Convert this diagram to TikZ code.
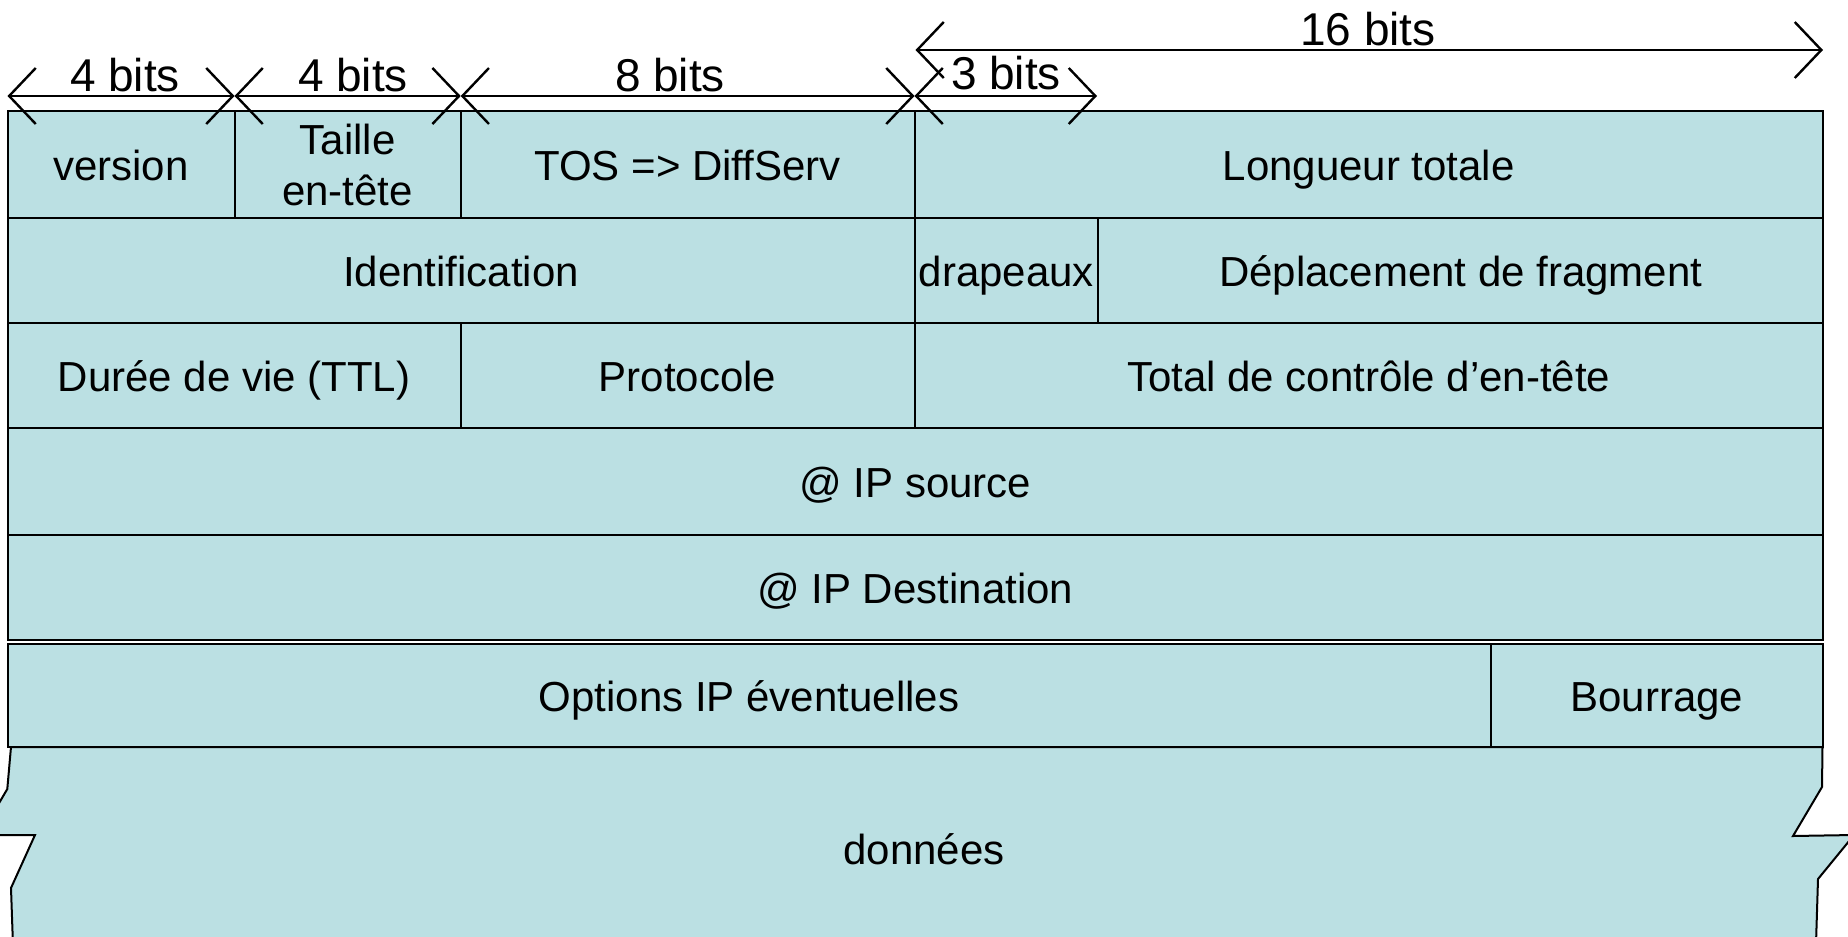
\documentclass[tikz,border=0pt]{standalone}
\usepackage{fontspec}
\setmainfont{Liberation Sans}
\usetikzlibrary{arrows.meta}
\definecolor{cellfill}{RGB}{187,224,227}
\newcommand\ipcell[7][]{%
  \node[cell,#1, minimum width={(#5-#3)*0.5pt}, minimum height={(#6-#4)*0.5pt}]
    (#2) at ({(#3+#5)/2},{(#4+#6)/2}) {#7};}
\begin{document}
\begin{tikzpicture}[x=0.5pt,y=-0.5pt,
  cell/.style={draw=black, fill=cellfill, line width=1pt, inner sep=0pt, outer sep=0pt,
    anchor=center, font=\fontsize{21}{25.5}\selectfont, text height=19.5pt, text depth=3.5pt},
  twoline/.style={align=center, text height={}, text depth={}},
  dim/.style={line width=1.2pt, {Straight Barb[length=13.3pt,width=28pt]}-{Straight Barb[length=13.3pt,width=28pt]}},
  dimlabel/.style={anchor=base, inner sep=0pt, font=\fontsize{23}{27}\selectfont},
  datatext/.style={inner sep=0pt, font=\fontsize{21}{25.5}\selectfont}]
\useasboundingbox (0,0) rectangle (1848,937);
% data block with torn edges
\begin{scope}
\clip (0,0) rectangle (1848,937);
\draw[line width=1pt, fill=cellfill, line join=miter]
  (11,747) -- (7.3,789) -- (-12,822) -- (-12,835) -- (35,835) -- (11,888) -- (13.5,960)
  -- (1815.5,960) -- (1818,879) -- (1854,835) -- (1793,836) -- (1822,787) -- (1822.5,747) -- cycle;
\end{scope}
\node[datatext] (donnees) at (924,849) {données};
% row 1
\ipcell{version}{7.5}{111}{234.5}{218}{version}
\ipcell[twoline]{taille}{234.5}{111}{460.7}{218}{Taille\\en-tête}
\ipcell{tos}{460.7}{111}{914.5}{218}{TOS => DiffServ}
\ipcell{longueur}{914.5}{111}{1823}{218}{Longueur totale}
% row 2
\ipcell{ident}{7.5}{218}{914.5}{322.5}{Identification}
\ipcell{drapeaux}{914.5}{218}{1098.3}{322.5}{drapeaux}
\ipcell{deplacement}{1098.3}{218}{1823}{322.5}{Déplacement de fragment}
% row 3
\ipcell{ttl}{7.5}{322.5}{460.7}{428}{Durée de vie (TTL)}
\ipcell{proto}{460.7}{322.5}{914.5}{428}{Protocole}
\ipcell{checksum}{914.5}{322.5}{1823}{428}{Total de contrôle d’en-tête}
% rows 4, 5
\ipcell{src}{7.5}{428}{1823}{535}{@ IP source}
\ipcell{dst}{7.5}{535}{1823}{640}{@ IP Destination}
% row 6
\ipcell{options}{7.5}{643.5}{1490.5}{747}{Options IP éventuelles}
\ipcell{bourrage}{1490.5}{643.5}{1823}{747}{Bourrage}
% dimension arrows
\coordinate (d0) at (7.5,96);
\coordinate (d1) at (234.5,96);
\coordinate (d2) at (460.7,96);
\coordinate (d3) at (914.5,96);
\coordinate (d4) at (1097,96);
\coordinate (e0) at (915.5,50);
\coordinate (e1) at (1823,50);
\draw[dim] (d0) -- (d1);
\draw[dim] (d1) -- (d2);
\draw[dim] (d2) -- (d3);
\draw[dim] (d3) -- (d4);
\draw[dim] (e0) -- (e1);
\node[dimlabel] (l1) at (125,91) {4 bits};
\node[dimlabel] (l2) at (353,91) {4 bits};
\node[dimlabel] (l3) at (670,91) {8 bits};
\node[dimlabel] (l4) at (1006,89) {3 bits};
\node[dimlabel] (l5) at (1368,45) {16 bits};
\end{tikzpicture}
\end{document}
